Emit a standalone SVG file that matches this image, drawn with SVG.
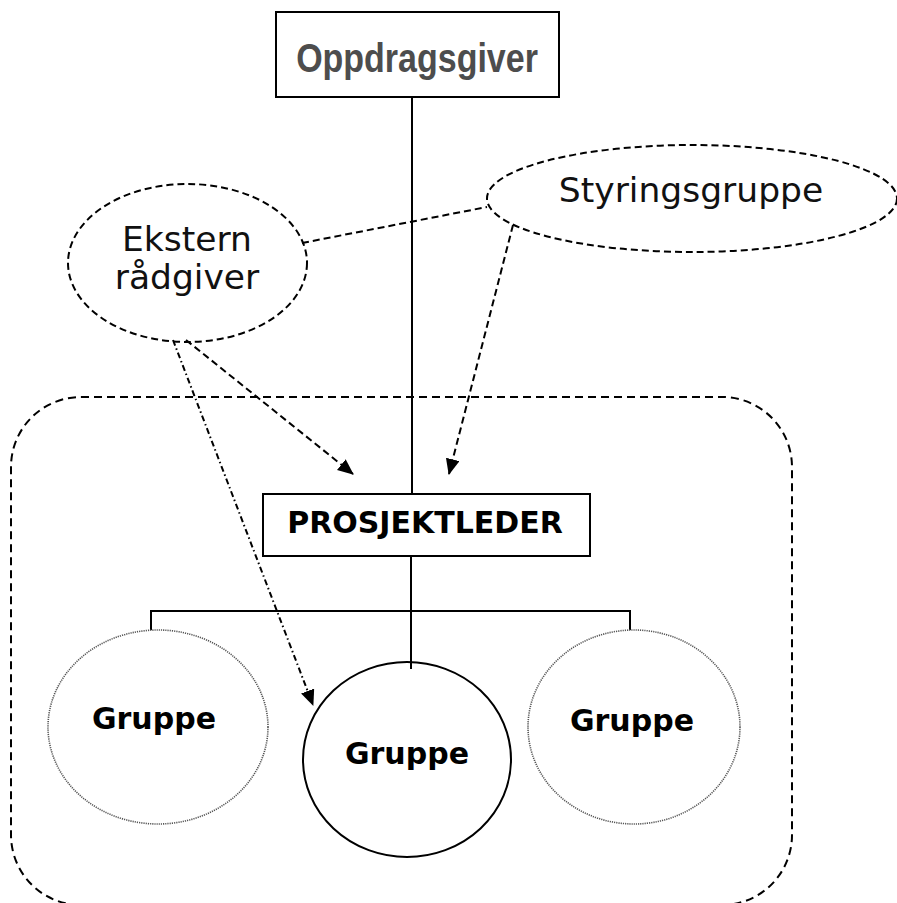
<svg xmlns="http://www.w3.org/2000/svg" width="897" height="903" viewBox="0 0 897 903">
<style>
.box{fill:#fff;stroke:#000;stroke-width:2}
.dash{fill:none;stroke:#000;stroke-width:2;stroke-dasharray:7 4}
.line{fill:none;stroke:#000;stroke-width:2}
.dotc{fill:#fff;stroke:#555;stroke-width:1.6;stroke-dasharray:1.2 1}
.reg{font-family:"DejaVu Sans",Verdana,sans-serif;font-size:34.5px;fill:#111;text-anchor:middle}
.bold{font-family:"DejaVu Sans",Verdana,sans-serif;font-weight:bold;font-size:30px;fill:#000;text-anchor:middle}
</style>
<defs>
<marker id="ah" markerWidth="16" markerHeight="14" refX="15" refY="7" orient="auto" markerUnits="userSpaceOnUse">
<path d="M0,0 L16,7 L0,14 Z" fill="#000"/>
</marker>
</defs>
<rect width="897" height="903" fill="#fff"/>
<g id="prosjekt-ramme">
<rect x="11" y="397" width="781" height="508" rx="70" ry="70" fill="none" stroke="#000" stroke-width="2" stroke-dasharray="8 5"/>
</g>
<g id="connectors">
<line class="line" x1="412" y1="97" x2="412" y2="494"/>
<line class="line" x1="411" y1="556" x2="411" y2="669"/>
<polyline class="line" points="151,630 151,611 630,611 630,630"/>
<line class="dash" x1="302" y1="243" x2="487" y2="207"/>
<line class="dash" x1="513" y1="225" x2="449" y2="474" marker-end="url(#ah)"/>
<line class="dash" x1="186" y1="340" x2="353" y2="474" marker-end="url(#ah)"/>
<line fill="none" stroke="#000" stroke-width="2" stroke-dasharray="6 3 1.5 3" x1="173" y1="340" x2="313" y2="705" marker-end="url(#ah)"/>
</g>
<g id="oppdragsgiver">
<rect class="box" x="276" y="12" width="283" height="85"/>
<text transform="translate(417,72) scale(1,1.22)" x="0" y="0" font-family="'Liberation Sans',Arial,sans-serif" font-weight="bold" font-size="34" fill="#4d4d4d" text-anchor="middle">Oppdragsgiver</text>
</g>
<g id="styringsgruppe">
<ellipse class="dash" cx="692" cy="198.5" rx="205" ry="53.5"/>
<text class="reg" x="691" y="202">Styringsgruppe</text>
</g>
<g id="ekstern-radgiver">
<ellipse class="dash" cx="187.5" cy="263" rx="119.5" ry="79"/>
<text class="reg" x="187" y="251">Ekstern</text>
<text class="reg" x="187" y="289">rådgiver</text>
</g>
<g id="prosjektleder">
<rect class="box" x="263" y="494" width="327" height="62"/>
<text class="bold" x="425" y="533" font-size="30.5">PROSJEKTLEDER</text>
</g>
<g id="gruppe-venstre">
<ellipse class="dotc" cx="158" cy="727" rx="110" ry="97"/>
<text class="bold" x="154" y="729">Gruppe</text>
</g>
<g id="gruppe-midt">
<ellipse fill="none" stroke="#000" stroke-width="2" cx="407" cy="759.5" rx="104" ry="97.5"/>
<text class="bold" x="407" y="764">Gruppe</text>
</g>
<g id="gruppe-hoyre">
<ellipse class="dotc" cx="634" cy="727" rx="106" ry="97"/>
<text class="bold" x="632" y="731">Gruppe</text>
</g>
</svg>
